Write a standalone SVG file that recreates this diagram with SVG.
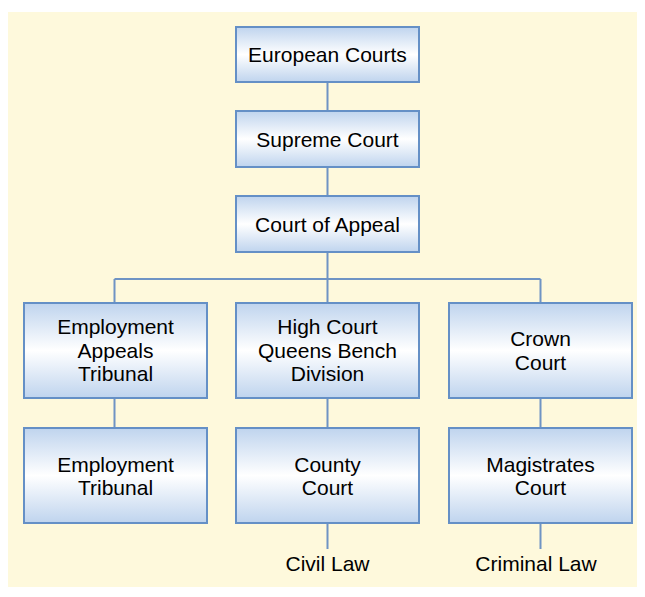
<svg xmlns="http://www.w3.org/2000/svg" width="645" height="597" viewBox="0 0 645 597">
<defs>
<linearGradient id="g" x1="0" y1="0" x2="0" y2="1">
<stop offset="0" stop-color="#bfd4ee"/>
<stop offset="0.5" stop-color="#ffffff"/>
<stop offset="1" stop-color="#bfd4ee"/>
</linearGradient>
</defs>
<style>
.box{fill:url(#g);stroke:#6590c6;stroke-width:2}
.t{font-family:"Liberation Sans",Arial,sans-serif;font-size:21px;fill:#000;text-anchor:middle}
.c{fill:none;stroke:#6f94c4;stroke-width:2}
</style>
<rect x="8" y="12" width="629" height="575" fill="#fef9dc"/>
<g id="connectors">
<path class="c" d="M327.5 82V111M327.5 167V196M327.5 252V279M114.5 279H540.5M114.5 279V303M327.5 279V303M540.5 279V303M114.5 398V428M327.5 398V428M540.5 398V428M327.5 523V549M540.5 523V549"/>
</g>
<g id="european"><rect class="box" x="236" y="27" width="183" height="55"/><text class="t" x="327.5" y="62">European Courts</text></g>
<g id="supreme"><rect class="box" x="236" y="111" width="183" height="56"/><text class="t" x="327.5" y="146.5">Supreme Court</text></g>
<g id="appeal"><rect class="box" x="236" y="196" width="183" height="56"/><text class="t" x="327.5" y="231.5">Court of Appeal</text></g>
<g id="eat"><rect class="box" x="24" y="303" width="183" height="95"/><text class="t" x="115.5" y="334">Employment</text><text class="t" x="115.5" y="357.5">Appeals</text><text class="t" x="115.5" y="381">Tribunal</text></g>
<g id="highcourt"><rect class="box" x="236" y="303" width="183" height="95"/><text class="t" x="327.5" y="334">High Court</text><text class="t" x="327.5" y="357.5">Queens Bench</text><text class="t" x="327.5" y="381">Division</text></g>
<g id="crown"><rect class="box" x="449" y="303" width="183" height="95"/><text class="t" x="540.5" y="346">Crown</text><text class="t" x="540.5" y="369.5">Court</text></g>
<g id="et"><rect class="box" x="24" y="428" width="183" height="95"/><text class="t" x="115.5" y="471.5">Employment</text><text class="t" x="115.5" y="495">Tribunal</text></g>
<g id="county"><rect class="box" x="236" y="428" width="183" height="95"/><text class="t" x="327.5" y="471.5">County</text><text class="t" x="327.5" y="495">Court</text></g>
<g id="magistrates"><rect class="box" x="449" y="428" width="183" height="95"/><text class="t" x="540.5" y="471.5">Magistrates</text><text class="t" x="540.5" y="495">Court</text></g>
<g id="civil"><text class="t" x="327.5" y="571">Civil Law</text></g>
<g id="criminal"><text class="t" x="536" y="571">Criminal Law</text></g>
</svg>
